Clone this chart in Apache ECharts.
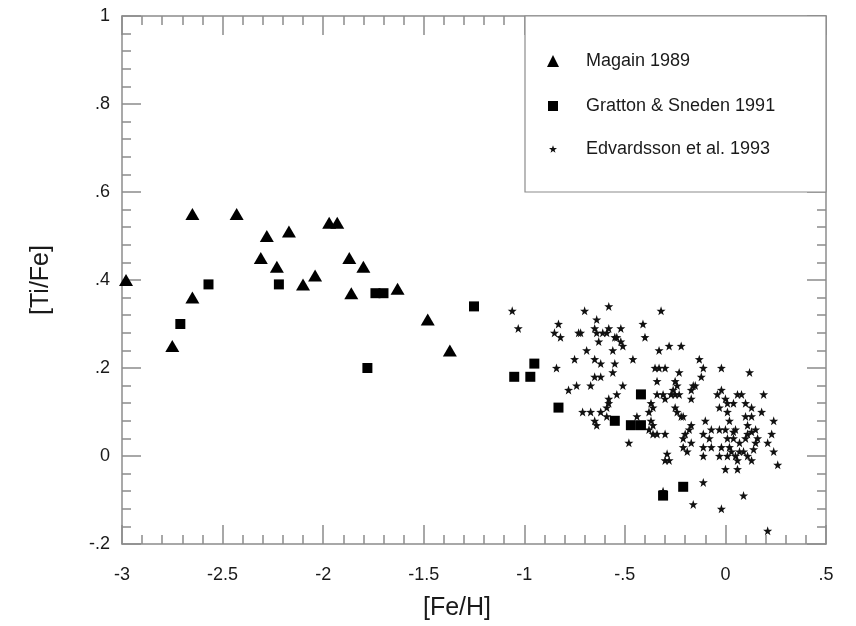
<!DOCTYPE html>
<html>
<head>
<meta charset="utf-8">
<script src="https://cdn.jsdelivr.net/npm/echarts@6/dist/echarts.min.js"></script>
<style>
html,body{margin:0;padding:0;background:#fff;}
#chart{width:856px;height:626px;}
</style>
</head>
<body>
<div id="chart"></div>
<script>
// Magain 1989 ([Fe/H], [Ti/Fe])
var magain = [
  [-2.98,0.40],[-2.75,0.25],[-2.65,0.36],[-2.65,0.55],[-2.43,0.55],[-2.31,0.45],
  [-2.28,0.50],[-2.23,0.43],[-2.17,0.51],[-2.10,0.39],[-2.04,0.41],[-1.97,0.53],
  [-1.93,0.53],[-1.87,0.45],[-1.86,0.37],[-1.80,0.43],[-1.63,0.38],[-1.48,0.31],
  [-1.37,0.24]
];
// Gratton & Sneden 1991
var gratton = [
  [-2.71,0.30],[-2.57,0.39],[-2.22,0.39],[-1.78,0.20],[-1.74,0.37],[-1.70,0.37],
  [-1.25,0.34],[-1.05,0.18],[-0.97,0.18],[-0.95,0.21],[-0.83,0.11],[-0.55,0.08],
  [-0.47,0.07],[-0.42,0.07],[-0.42,0.14],[-0.31,-0.09],[-0.21,-0.07]
];
// Edvardsson et al. 1993
var edvardsson = [
  [-1.06,0.33],[-1.03,0.29],[-0.70,0.33],[-0.58,0.34],[-0.32,0.33],[-0.83,0.30],
  [-0.85,0.28],[-0.82,0.27],[-0.73,0.28],[-0.72,0.28],[-0.64,0.31],[-0.65,0.29],
  [-0.64,0.28],[-0.61,0.28],[-0.59,0.28],[-0.58,0.29],[-0.55,0.27],[-0.54,0.27],
  [-0.52,0.29],[-0.52,0.26],[-0.51,0.25],[-0.63,0.26],[-0.41,0.30],[-0.40,0.27],
  [-0.69,0.24],[-0.56,0.24],[-0.75,0.22],[-0.65,0.22],[-0.62,0.21],[-0.55,0.21],
  [-0.46,0.22],[-0.33,0.24],[-0.28,0.25],[-0.22,0.25],[-0.84,0.20],[-0.65,0.18],
  [-0.62,0.18],[-0.56,0.19],[-0.35,0.20],[-0.33,0.20],[-0.30,0.20],[-0.34,0.17],
  [-0.74,0.16],[-0.78,0.15],[-0.67,0.16],[-0.51,0.16],[-0.54,0.14],[-0.58,0.13],
  [-0.58,0.12],[-0.59,0.11],[-0.71,0.10],[-0.67,0.10],[-0.62,0.10],[-0.34,0.14],
  [-0.31,0.14],[-0.30,0.13],[-0.23,0.19],[-0.25,0.17],[-0.24,0.16],[-0.26,0.15],
  [-0.27,0.14],[-0.25,0.14],[-0.23,0.14],[-0.37,0.12],[-0.36,0.11],[-0.38,0.10],
  [-0.65,0.08],[-0.64,0.07],[-0.59,0.09],[-0.44,0.09],[-0.37,0.08],[-0.36,0.07],
  [-0.38,0.06],[-0.36,0.05],[-0.34,0.05],[-0.30,0.05],[-0.25,0.11],[-0.24,0.10],
  [-0.22,0.09],[-0.21,0.09],[-0.48,0.03],[-0.30,-0.01],[-0.28,-0.01],[-0.29,0.005],
  [-0.21,0.04],[-0.21,0.02],[-0.19,0.01],[-0.17,0.03],[-0.13,0.22],[-0.11,0.20],
  [-0.12,0.18],[-0.02,0.20],[0.12,0.19],[-0.16,0.16],[-0.15,0.16],[-0.17,0.15],
  [-0.17,0.13],[-0.02,0.15],[-0.04,0.14],[0.06,0.14],[0.08,0.14],[0.19,0.14],
  [0.00,0.13],[0.04,0.12],[0.01,0.12],[-0.03,0.11],[0.10,0.12],[0.13,0.11],
  [0.01,0.10],[0.18,0.10],[-0.10,0.08],[0.02,0.08],[0.10,0.09],[0.13,0.09],
  [0.24,0.08],[-0.17,0.07],[0.11,0.07],[-0.07,0.06],[-0.03,0.06],[0.00,0.06],
  [0.05,0.06],[0.04,0.055],[0.13,0.055],[0.15,0.06],[-0.20,0.05],[-0.18,0.06],
  [-0.11,0.05],[-0.08,0.04],[0.01,0.04],[0.04,0.04],[0.07,0.03],[0.10,0.04],
  [0.11,0.05],[0.16,0.04],[0.15,0.03],[0.23,0.05],[0.21,0.03],[-0.11,0.02],
  [-0.07,0.02],[-0.02,0.02],[0.02,0.02],[0.03,0.01],[0.05,0.00],[0.07,0.01],
  [0.09,0.01],[0.11,0.00],[0.14,0.015],[-0.11,0.00],[-0.03,0.00],[0.01,0.00],
  [0.06,-0.01],[0.13,-0.01],[0.24,0.01],[0.26,-0.02],[0.00,-0.03],[0.06,-0.03],
  [-0.11,-0.06],[0.09,-0.09],[-0.16,-0.11],[-0.02,-0.12],[0.21,-0.17],[-0.31,-0.08]
];
var seriesNames = ['Magain 1989', 'Gratton & Sneden 1991', 'Edvardsson et al. 1993'];
var xRange = [-3, 0.5];
var yRange = [-0.2, 1];

var STAR = 'path://M0,-10L2.35,-3.24L9.51,-3.09L3.8,1.24L5.88,8.09L0,4L-5.88,8.09L-3.8,1.24L-9.51,-3.09L-2.35,-3.24Z';
var axisGray = '#8c8c8c';
var textCol = '#1a1a1a';
var FONT = 'Liberation Sans, Arial, Helvetica, sans-serif';

function fmt(v) {
  var s = String(Math.round(v * 100) / 100);
  return s.replace(/^(-?)0\./, '$1.');
}

function xAx(pos, showLabel) {
  return {
    type: 'value', position: pos, min: xRange[0], max: xRange[1], interval: 0.5,
    axisLine: { show: true, onZero: false, lineStyle: { color: axisGray, width: 1.5 } },
    axisTick: { show: true, inside: true, length: 19, lineStyle: { color: axisGray, width: 1.5 } },
    minorTick: { show: true, splitNumber: 5, length: 9, lineStyle: { color: axisGray, width: 1.5 } },
    splitLine: { show: false },
    axisLabel: { show: showLabel, formatter: fmt, color: textCol, fontSize: 18, fontFamily: FONT, margin: 22 },
    name: showLabel ? '[Fe/H]' : '', nameLocation: 'middle', nameGap: 52,
    nameTextStyle: { color: textCol, fontSize: 25, fontFamily: FONT, padding: [0, 34, 0, 0] }
  };
}
function yAx(pos, showLabel) {
  return {
    type: 'value', position: pos, min: yRange[0], max: yRange[1], interval: 0.2,
    axisLine: { show: true, onZero: false, lineStyle: { color: axisGray, width: 1.5 } },
    axisTick: { show: true, inside: true, length: 19, lineStyle: { color: axisGray, width: 1.5 } },
    minorTick: { show: true, splitNumber: 5, length: 9, lineStyle: { color: axisGray, width: 1.5 } },
    splitLine: { show: false },
    axisLabel: { show: showLabel, formatter: fmt, color: textCol, fontSize: 18, fontFamily: FONT, margin: 12 },
    name: showLabel ? '[Ti/Fe]' : '', nameLocation: 'middle', nameGap: 68, nameRotate: 90,
    nameTextStyle: { color: textCol, fontSize: 25, fontFamily: FONT }
  };
}

var chart = echarts.init(document.getElementById('chart'), null, { renderer: 'canvas' });
function legendFor(name, icon, w, top, pad) {
  return {
    orient: 'vertical', left: 548 - w / 2, top: top, itemWidth: w, itemHeight: w, selectedMode: false,
    data: [{ name: name, icon: icon }],
    textStyle: { color: textCol, fontSize: 18, fontFamily: FONT, padding: [0, 0, 0, pad] }
  };
}
chart.setOption({
  animation: false,
  backgroundColor: '#fff',
  grid: { left: 122, top: 16, width: 704, height: 529, containLabel: false },
  xAxis: [xAx('bottom', true), xAx('top', false)],
  yAxis: [yAx('left', true), yAx('right', false)],
  graphic: [{
    type: 'rect', z: 1,
    shape: { x: 525, y: 16, width: 301, height: 176 },
    style: { fill: '#fff', stroke: axisGray, lineWidth: 1.2 }
  }],
  legend: [
    legendFor(seriesNames[0], 'triangle', 12, 47, 22),
    legendFor(seriesNames[1], 'rect', 10, 92, 23),
    legendFor(seriesNames[2], STAR, 8, 135, 24)
  ],
  series: [
    { name: seriesNames[0], type: 'scatter', data: magain, symbol: 'triangle', symbolSize: [14, 12],
      itemStyle: { color: '#000', opacity: 1 }, z: 5 },
    { name: seriesNames[1], type: 'scatter', data: gratton, symbol: 'rect', symbolSize: 10,
      itemStyle: { color: '#000', opacity: 1 }, z: 5 },
    { name: seriesNames[2], type: 'scatter', data: edvardsson, symbol: STAR, symbolSize: 9,
      itemStyle: { color: '#111', opacity: 1 }, z: 4 }
  ]
});
</script>
</body>
</html>
